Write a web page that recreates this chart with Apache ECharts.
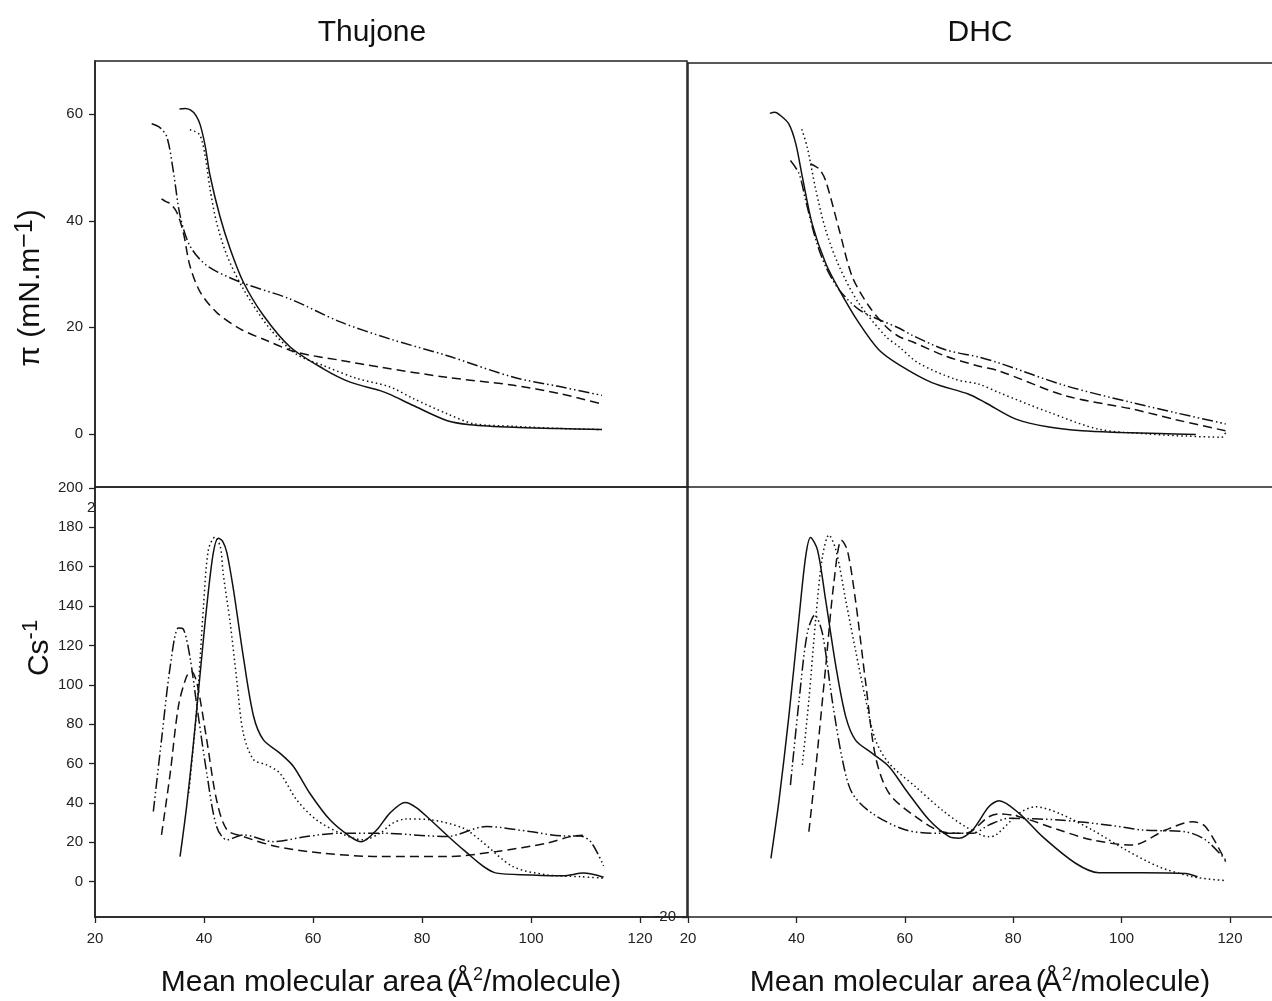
<!DOCTYPE html>
<html>
<head>
<meta charset="utf-8">
<script src="https://cdn.jsdelivr.net/npm/echarts@6/dist/echarts.min.js"></script>
<style>
html, body { margin: 0; padding: 0; background: #fff; }
#chart { width: 1272px; height: 1001px; }
</style>
</head>
<body>
<div id="chart"></div>
<script>
// surface pressure isotherms, Thujone (pi vs area)
var thujPiSolid = [[35.5,61.0],[36.5,61.1],[37.5,60.8],[38.5,59.8],[39.3,58.0],[40.2,54.1],[41.1,48.5],[42.9,40.9],[44.8,34.7],[47.2,28.5],[50.9,22.2],[55.8,16.3],[61.9,12.2],[66.8,9.7],[72.3,8.1],[74.1,7.4],[78.4,5.3],[84.5,2.5],[88.8,1.7],[96.8,1.2],[105,1.0],[113,0.8]];
var thujPiDot = [[37.4,57.1],[38.3,56.8],[39.3,56.0],[40.2,52.2],[41.1,46.0],[42.3,39.7],[44.2,33.5],[47.2,27.2],[52.1,19.7],[57.0,14.9],[61.9,12.8],[68.0,10.4],[74.1,8.8],[78.4,6.6],[84.5,3.8],[89.4,1.9],[96.8,1.4],[105,1.0],[113,0.8]];
var thujPiDash = [[32.2,44.1],[33.0,43.6],[33.8,43.2],[35.0,41.6],[36.2,37.8],[37.4,31.6],[39.3,26.6],[42.3,22.8],[46.6,19.7],[51.5,17.5],[57.0,15.3],[65.0,13.8],[72.3,12.5],[84.5,10.6],[96.8,9.1],[105,7.6],[113,5.6]];
var thujPiDashDot = [[30.4,58.2],[31.9,57.5],[33.2,55.7],[34.4,49.1],[35.6,41.0],[37.4,35.3],[40.5,31.6],[46.6,28.5],[55.8,25.3],[65.0,21.0],[74.1,17.8],[84.5,14.7],[96.8,10.6],[105,8.9],[113,7.2]];

// surface pressure isotherms, DHC
var dhcPiSolid = [[35.1,60.5],[36.0,60.7],[36.8,60.3],[38.6,58.5],[39.9,54.7],[41.1,48.5],[42.9,39.7],[45.4,32.2],[47.9,27.2],[51.5,21.0],[55.2,15.9],[58.9,13.1],[65.0,9.7],[71.8,7.5],[74.9,5.9],[80.5,2.8],[86.6,1.3],[92.7,0.6],[100,0.3],[107,0.1],[113.7,-0.1]];
var dhcPiDot = [[41.0,57.5],[42.0,54.1],[43.6,46.0],[45.4,38.5],[47.9,31.6],[51.5,24.7],[56.5,18.4],[58.9,16.5],[62.5,13.4],[69.4,10.3],[73.7,9.4],[77.4,7.8],[86.6,4.1],[95.8,0.9],[105.1,0],[112,-0.4],[118.5,-0.6],[119.2,0.3]];
var dhcPiDash = [[42.6,51.0],[44.2,50.0],[45.4,47.8],[47.9,38.5],[50.3,29.7],[53.4,24.1],[56.5,20.3],[58.9,18.4],[61.4,17.4],[67.5,14.7],[73.7,12.8],[77.4,11.9],[89.7,7.2],[102,4.7],[110,2.7],[119.2,0.6]];
var dhcPiDashDot = [[38.9,51.6],[40.5,49.1],[41.7,44.1],[43.6,36.6],[45.4,31.6],[47.9,27.2],[51.5,23.5],[55.2,21.6],[58.9,20.0],[61.4,18.6],[67.5,15.9],[73.7,14.5],[77.4,13.4],[89.7,9.1],[102,5.9],[110,4.0],[119.2,1.9]];

// compressibility modulus Cs-1, Thujone
var thujCsSolid = [[35.6,12.7],[36.8,38.0],[38.0,68.6],[39.3,106],[40.5,139.8],[41.7,167],[42.6,174.5],[43.4,173],[44.2,167],[45.4,148.3],[47.2,114.4],[49.1,83.9],[50.9,72],[53.9,65.3],[56.4,58.5],[59.4,44.9],[63.1,31.4],[66.8,22.9],[68.9,20.3],[71.7,26.3],[74.1,34.8],[76.9,40.2],[79,37.5],[81.5,31.4],[87.6,16.1],[93.7,4.3],[99.8,3.4],[105.9,2.9],[109.6,4.3],[113.3,2.2]];
var thujCsDot = [[37.2,45],[38.7,89],[39.9,139.8],[40.8,168.6],[42.0,175],[43.0,170],[43.5,156.8],[44.8,131.4],[46.0,102.5],[47.2,75.4],[49.1,61.9],[51.5,59.3],[53.9,55.1],[57.0,41.5],[60.6,31.4],[65.0,24.6],[69.2,21.2],[72.3,24.6],[74.5,29.5],[77,31.8],[81.5,31.4],[87.6,27.1],[90.6,21.2],[96.7,7.6],[102.9,3.4],[109,2.5],[113.3,1.7]];
var thujCsDash = [[32.2,23.7],[33.8,55.1],[35.3,89],[36.8,104.2],[37.7,106.8],[38.7,100.9],[40.5,72],[42.3,41.5],[44.2,26.3],[47.2,22.9],[53.3,17.8],[61.9,14.4],[72.3,12.7],[84.5,12.7],[93.7,15.3],[102.9,19.5],[107.2,22.9],[109.5,23.5]];
var thujCsDashDot = [[30.7,35.6],[32.2,72],[33.8,109.3],[35.3,128.8],[36.2,128.3],[37.4,114.4],[38.7,89],[40.5,55.1],[42.3,28],[44.2,21.2],[47.2,23.7],[52.7,20.3],[58.8,22.9],[65,24.6],[72.3,24.6],[84.5,22.9],[91.8,28],[99.8,25.4],[105.9,23.2],[109,23.2],[111,20],[113.3,8]];

// compressibility modulus Cs-1, DHC
var dhcCsSolid = [[35.3,10],[36.8,39.8],[38.6,82.5],[40.5,133.6],[41.7,164.3],[42.6,174.2],[43.9,167.7],[45.4,142.1],[47.3,108],[49.1,82.5],[50.9,70.5],[54.0,63.7],[57.1,56.9],[60.2,45],[64.5,29.6],[68.2,21.1],[70,20.3],[72.5,24.5],[75.5,36.4],[77.4,39.5],[81.1,33],[85.4,21.1],[91.5,7.5],[95.8,2.7],[103.8,2.7],[111.8,2.3],[114,0.6]];
var dhcCsDot = [[41.1,57.8],[42.3,91],[43.6,133.6],[44.8,164.3],[46.0,175.4],[47.3,167.7],[49.1,142.1],[50.9,116.6],[52.8,91],[54.6,70.5],[57.1,58.6],[62,46.6],[66.9,34.7],[71.2,26.2],[75.5,21.1],[76.8,21.9],[81.1,33],[84.1,36.4],[88.5,33],[94.6,24.5],[100.8,14.3],[106.9,5.7],[113.1,0.6],[119.2,-1.4]];
var dhcCsDash = [[42.3,23.6],[43.6,56.9],[45.4,108],[46.9,150.7],[48.3,172.8],[49.4,167.7],[50.9,142.1],[52.8,99.5],[54.6,62],[57.1,43.3],[62,31.3],[66.9,23.6],[71.2,22.8],[75.5,31.3],[77.4,32.7],[81.1,31.3],[88.5,24.5],[94.6,19.4],[102,16.8],[108.1,24.5],[113.1,28.7],[115.5,26.2],[119.2,8.3]];
var dhcCsDashDot = [[38.9,47.5],[40.5,91],[42.0,125.1],[43.4,134.5],[44.8,125.1],[46.6,91],[48.5,60.3],[50.3,43.3],[54.0,33],[60.2,24.5],[66.3,22.8],[72.5,22.8],[75.5,27],[79.2,30.5],[88.5,29.6],[97.7,27],[103.8,24.5],[111.8,23.6],[115.5,19.4],[119.2,9.2]];

var xTicks = [20, 40, 60, 80, 100, 120];
var piTicks = [0, 20, 40, 60];
var csTicks = [0, 20, 40, 60, 80, 100, 120, 140, 160, 180, 200];

var FONT = 'Liberation Sans, Arial, sans-serif';
var INK = '#111';
var EDGE = { color: '#222', width: 1.5 };
var dashTypes = {
  solid: 'solid',
  dot: [1.5, 3],
  dash: [9, 5],
  dashdot: [11, 3, 1.5, 3, 1.5, 3]
};

function line(data, idx, kind) {
  return {
    type: 'line',
    xAxisIndex: idx,
    yAxisIndex: idx,
    data: data,
    symbol: 'none',
    smooth: 0.3,
    silent: true,
    lineStyle: { color: INK, width: 1.5, type: dashTypes[kind] }
  };
}

// axis that only draws a border line (or nothing)
function plainX(idx, max, pos, edge) {
  return {
    type: 'value', gridIndex: idx, min: 20, max: max, position: pos,
    axisLine: { show: edge, onZero: false, lineStyle: EDGE }, axisTick: { show: false },
    axisLabel: { show: false }, splitLine: { show: false }
  };
}

function shownX(idx, max) {
  return {
    type: 'value', gridIndex: idx, min: 20, max: max,
    axisLine: { show: true, onZero: false, lineStyle: EDGE },
    axisTick: { show: true, length: 6, customValues: xTicks, lineStyle: { color: '#222', width: 1.3 } },
    axisLabel: { customValues: xTicks, margin: 14, fontSize: 15, color: '#222', fontFamily: FONT },
    splitLine: { show: false },
    name: '{t|Mean molecular area }{p|(}{t|Å}{s|2}{t|/molecule)}',
    nameLocation: 'middle',
    nameGap: 49,
    nameTextStyle: {
      rich: {
        t: { fontSize: 30, fontFamily: FONT, color: INK, lineHeight: 34 },
        p: { fontSize: 30, fontFamily: FONT, color: INK, lineHeight: 34, width: 2 },
        s: { fontSize: 18, fontFamily: FONT, color: INK, lineHeight: 34, verticalAlign: 'top' }
      }
    }
  };
}

function yAxis(idx, min, max, ticks) {
  var show = ticks.length > 0;
  return {
    type: 'value', gridIndex: idx, min: min, max: max,
    axisLine: { show: true, onZero: false, lineStyle: EDGE },
    axisTick: { show: show, length: 6, customValues: ticks, lineStyle: { color: '#222', width: 1.3 } },
    axisLabel: { show: show, customValues: ticks, margin: 12, fontSize: 15, color: '#222', fontFamily: FONT },
    splitLine: { show: false }
  };
}

var frame = { show: true, borderColor: '#222', borderWidth: 1.5, backgroundColor: 'transparent' };
var leftMax = 128.6;
var rightMax = 127.75;

var chart = echarts.init(document.getElementById('chart'), null, { renderer: 'canvas' });
chart.setOption({
  animation: false,
  backgroundColor: '#fff',
  grid: [
    Object.assign({ left: 95, top: 61, width: 592, height: 426 }, frame),
    { left: 688, top: 63, width: 584, height: 424, show: false },
    Object.assign({ left: 95, top: 487, width: 592, height: 430 }, frame),
    { left: 688, top: 487, width: 584, height: 430, show: false }
  ],
  xAxis: [
    plainX(0, leftMax, 'bottom', false),
    plainX(1, rightMax, 'bottom', true),
    shownX(2, leftMax),
    shownX(3, rightMax),
    plainX(1, rightMax, 'top', true)
  ],
  yAxis: [
    yAxis(0, -10, 70, piTicks),
    yAxis(1, -10, 70, []),
    yAxis(2, -18, 200.5, csTicks),
    yAxis(3, -20, 200, [-20])
  ],
  graphic: [
    { type: 'text', x: 372, y: 33, style: { text: 'Thujone', font: '30px ' + FONT, fill: INK, align: 'center', verticalAlign: 'middle' } },
    { type: 'text', x: 980, y: 33, style: { text: 'DHC', font: '30px ' + FONT, fill: INK, align: 'center', verticalAlign: 'middle' } },
    { type: 'text', x: 31, y: 288, rotation: Math.PI / 2,
      style: { text: '{t|π (mN.m}{s|−1}{t|)}', align: 'center', verticalAlign: 'middle',
        rich: {
          t: { fontSize: 30, fontFamily: FONT, fill: INK, lineHeight: 36 },
          s: { fontSize: 25, fontFamily: FONT, fill: INK, lineHeight: 36, verticalAlign: 'top' }
        } } },
    { type: 'text', x: 40, y: 648, rotation: Math.PI / 2,
      style: { text: '{t|Cs}{s|-1}', align: 'center', verticalAlign: 'middle',
        rich: {
          t: { fontSize: 30, fontFamily: FONT, fill: INK, lineHeight: 40 },
          s: { fontSize: 22, fontFamily: FONT, fill: INK, lineHeight: 40, verticalAlign: 'top' }
        } } },
    { type: 'text', x: 87, y: 500, style: { text: '2', font: '15px ' + FONT, fill: '#222' } }
  ],
  series: [
    line(thujPiSolid, 0, 'solid'), line(thujPiDot, 0, 'dot'), line(thujPiDash, 0, 'dash'), line(thujPiDashDot, 0, 'dashdot'),
    line(dhcPiSolid, 1, 'solid'), line(dhcPiDot, 1, 'dot'), line(dhcPiDash, 1, 'dash'), line(dhcPiDashDot, 1, 'dashdot'),
    line(thujCsSolid, 2, 'solid'), line(thujCsDot, 2, 'dot'), line(thujCsDash, 2, 'dash'), line(thujCsDashDot, 2, 'dashdot'),
    line(dhcCsSolid, 3, 'solid'), line(dhcCsDot, 3, 'dot'), line(dhcCsDash, 3, 'dash'), line(dhcCsDashDot, 3, 'dashdot')
  ]
});
</script>
</body>
</html>
